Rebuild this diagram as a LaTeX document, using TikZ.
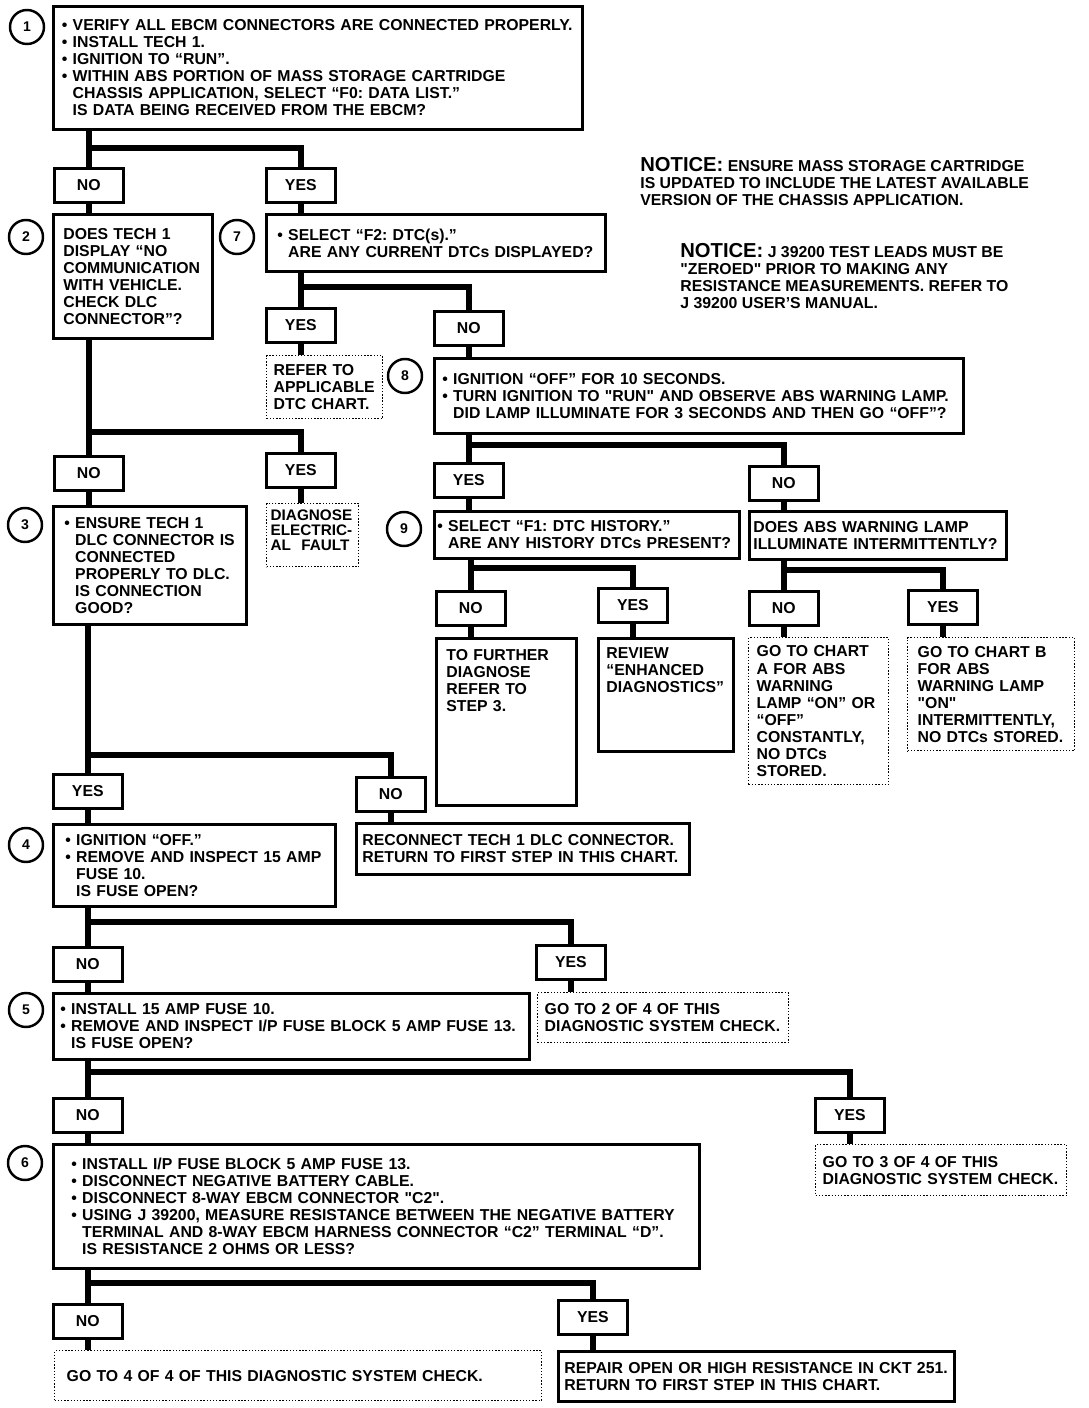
\documentclass[tikz,border=0pt]{standalone}
\usepackage{fontspec}
\setmainfont{Liberation Sans}
\usepackage{tikz}
\usetikzlibrary{positioning}

\hyphenpenalty=10000
\exhyphenpenalty=10000
\frenchspacing
\newcommand\blt{\textbullet\ }
\newcommand\cont{\phantom{\textbullet\ }}
\newcommand\qd{\textquotedbl}

\begin{document}
\begin{tikzpicture}[x=0.02cm, y=-0.02cm]
  \tikzstyle{every node}=[font=\fontsize{9}{9.7}\selectfont\bfseries]
  \tikzstyle{stepbox}=[draw, line width=1.6pt, anchor=north west, align=left, inner ysep=0pt]
  \tikzstyle{endbox}=[stepbox, line width=0.8pt, densely dotted]
  \tikzstyle{ans}=[draw, line width=1.5pt, anchor=north west, minimum width=1.38cm, minimum height=0.68cm, inner sep=0pt]
  \tikzstyle{num}=[circle, draw, line width=1.4pt, minimum size=0.68cm, inner sep=0pt, font=\fontsize{8}{8}\selectfont\bfseries]
  \tikzstyle{conn}=[line width=3.4pt]
  \useasboundingbox (0,0) rectangle (1088,1408);

  % notices
  \node[anchor=north west, align=left, inner sep=0pt] (note1) at (640,157)
    {{\fontsize{11.5}{11.5}\selectfont NOTICE:} ENSURE MASS STORAGE CARTRIDGE\\IS UPDATED TO INCLUDE THE LATEST AVAILABLE\\VERSION OF THE CHASSIS APPLICATION.};
  \node[anchor=north west, align=left, inner sep=0pt] (note2) at (680,243)
    {{\fontsize{11.5}{11.5}\selectfont NOTICE:} J 39200 TEST LEADS MUST BE\\\qd ZEROED\qd{} PRIOR TO MAKING ANY\\RESISTANCE MEASUREMENTS. REFER TO\\J 39200 USER'S MANUAL.};

  % step numbers
  \node[num] (c1) at (27,27) {1};
  \node[num] (c2) at (26,237) {2};
  \node[num] (c7) at (237,237) {7};
  \node[num] (c8) at (405,376) {8};
  \node[num] (c9) at (404,529) {9};
  \node[num] (c3) at (25,525) {3};
  \node[num] (c4) at (26,845) {4};
  \node[num] (c5) at (26,1010) {5};
  \node[num] (c6) at (25,1163) {6};

  % step boxes
  \node[stepbox, inner xsep=0.17cm, text width=10.24cm, minimum height=2.46cm] (s1) at (52,5)
    {\blt VERIFY ALL EBCM CONNECTORS ARE CONNECTED PROPERLY.\\\blt INSTALL TECH 1.\\\blt IGNITION TO “RUN”.\\\blt WITHIN ABS PORTION OF MASS STORAGE CARTRIDGE\\\cont CHASSIS APPLICATION, SELECT “F0: DATA LIST.”\\\cont IS DATA BEING RECEIVED FROM THE EBCM?};
  \node[stepbox, inner xsep=0.2cm, text width=2.78cm, minimum height=2.48cm] (s2) at (52,213)
    {DOES TECH 1\\DISPLAY “NO\\COMMUNICATION\\WITH VEHICLE.\\CHECK DLC\\CONNECTOR”?};
  \node[stepbox, inner xsep=0.22cm, text width=6.34cm, minimum height=1.14cm] (s7) at (265,213)
    {\blt SELECT “F2: DTC(s).”\\\cont ARE ANY CURRENT DTCs DISPLAYED?};
  \node[endbox, inner xsep=0.14cm, text width=2.04cm, minimum height=1.26cm] (ref1) at (266,355)
    {REFER TO\\APPLICABLE\\DTC CHART.};
  \node[stepbox, inner xsep=0.16cm, text width=10.26cm, minimum height=1.5cm] (s8) at (433,357)
    {\blt IGNITION “OFF” FOR 10 SECONDS.\\\blt TURN IGNITION TO \qd RUN\qd{} AND OBSERVE ABS WARNING LAMP.\\\cont DID LAMP ILLUMINATE FOR 3 SECONDS AND THEN GO “OFF”?};
  \node[stepbox, inner xsep=0.06cm, text width=5.98cm, minimum height=0.94cm] (s9) at (433,510)
    {\blt SELECT “F1: DTC HISTORY.”\\\cont ARE ANY HISTORY DTCs PRESENT?};
  \node[stepbox, inner xsep=0.08cm, text width=4.98cm, minimum height=0.96cm] (abs) at (748,510)
    {DOES ABS WARNING LAMP\\ILLUMINATE INTERMITTENTLY?};
  \node[stepbox, inner xsep=0.2cm, text width=2.4cm, text height=0.44cm, text depth=2.9cm] (fur) at (435,637)
    {TO FURTHER\\DIAGNOSE\\REFER TO\\STEP 3.};
  \node[stepbox, inner xsep=0.16cm, text width=2.38cm, text height=0.4cm, text depth=1.86cm] (rev) at (597,637)
    {REVIEW\\“ENHANCED\\DIAGNOSTICS”};
  \node[endbox, inner xsep=0.16cm, text width=2.48cm, minimum height=2.94cm] (chA) at (748,637)
    {GO TO CHART\\A FOR ABS\\WARNING\\LAMP “ON” OR\\“OFF”\\CONSTANTLY,\\NO DTCs\\STORED.};
  \node[endbox, inner xsep=0.2cm, text width=2.94cm, minimum height=2.26cm] (chB) at (907,637)
    {GO TO CHART B\\FOR ABS\\WARNING LAMP\\\qd ON\qd\\INTERMITTENTLY,\\NO DTCs STORED.};
  \node[endbox, inner xsep=0.08cm, text width=1.68cm, text height=0.34cm, text depth=0.92cm,
        font=\fontsize{8.7}{8.6}\selectfont\bfseries] (diag) at (266,503)
    {DIAGNOSE\\ELECTRIC-\\AL\ \ FAULT};
  \node[stepbox, inner xsep=0.22cm, text width=3.42cm, minimum height=2.36cm] (s3) at (52,505)
    {\blt ENSURE TECH 1\\\cont DLC CONNECTOR IS\\\cont CONNECTED\\\cont PROPERLY TO DLC.\\\cont IS CONNECTION\\\cont GOOD?};
  \node[stepbox, inner xsep=0.12cm, text width=6.42cm, minimum height=1.02cm] (rec) at (355,822)
    {RECONNECT TECH 1 DLC CONNECTOR.\\RETURN TO FIRST STEP IN THIS CHART.};
  \node[stepbox, inner xsep=0.24cm, text width=5.16cm, minimum height=1.64cm] (s4) at (52,823)
    {\blt IGNITION “OFF.”\\\blt REMOVE AND INSPECT 15 AMP\\\cont FUSE 10.\\\cont IS FUSE OPEN?};
  \node[endbox, inner xsep=0.14cm, text width=4.74cm, minimum height=1.0cm] (go2) at (537,992)
    {GO TO 2 OF 4 OF THIS\\DIAGNOSTIC SYSTEM CHECK.};
  \node[stepbox, inner xsep=0.14cm, text width=9.24cm, minimum height=1.32cm] (s5) at (52,992)
    {\blt INSTALL 15 AMP FUSE 10.\\\blt REMOVE AND INSPECT I/P FUSE BLOCK 5 AMP FUSE 13.\\\cont IS FUSE OPEN?};
  \node[endbox, inner xsep=0.14cm, text width=4.74cm, minimum height=1.02cm] (go3) at (815,1144)
    {GO TO 3 OF 4 OF THIS\\DIAGNOSTIC SYSTEM CHECK.};
  \node[stepbox, inner xsep=0.36cm, text width=12.2cm, minimum height=2.48cm] (s6) at (52,1143)
    {\blt INSTALL I/P FUSE BLOCK 5 AMP FUSE 13.\\\blt DISCONNECT NEGATIVE BATTERY CABLE.\\\blt DISCONNECT 8-WAY EBCM CONNECTOR \qd C2\qd.\\\blt USING J 39200, MEASURE RESISTANCE BETWEEN THE NEGATIVE BATTERY\\\cont TERMINAL AND 8-WAY EBCM HARNESS CONNECTOR “C2” TERMINAL “D”.\\\cont IS RESISTANCE 2 OHMS OR LESS?};
  \node[endbox, inner xsep=0.24cm, text width=9.26cm, minimum height=1.0cm] (go4) at (54,1350)
    {GO TO 4 OF 4 OF THIS DIAGNOSTIC SYSTEM CHECK.};
  \node[stepbox, inner xsep=0.12cm, text width=7.68cm, minimum height=1.0cm] (rep) at (557,1350)
    {REPAIR OPEN OR HIGH RESISTANCE IN CKT 251.\\RETURN TO FIRST STEP IN THIS CHART.};

  % answers
  \node[ans] (no1) at (53,167) {NO};
  \node[ans] (yes1) at (265,167) {YES};
  \node[ans] (yes2) at (265,307) {YES};
  \node[ans] (no2) at (433,310) {NO};
  \node[ans] (no6) at (53,455) {NO};
  \node[ans] (yes6) at (265,452) {YES};
  \node[ans] (yes3) at (433,462) {YES};
  \node[ans] (no3) at (748,465) {NO};
  \node[ans] (no4) at (435,590) {NO};
  \node[ans] (yes4) at (597,587) {YES};
  \node[ans] (no5) at (748,590) {NO};
  \node[ans] (yes5) at (907,589) {YES};
  \node[ans] (yes7) at (52,773) {YES};
  \node[ans] (no7) at (355,776) {NO};
  \node[ans] (no8) at (52,946) {NO};
  \node[ans] (yes8) at (535,944) {YES};
  \node[ans] (no9) at (52,1097) {NO};
  \node[ans] (yes9) at (814,1097) {YES};
  \node[ans] (no10) at (52,1303) {NO};
  \node[ans] (yes10) at (557,1299) {YES};

  % branch levels
  \coordinate (j1) at (0,148);
  \coordinate (j7) at (0,287);
  \coordinate (j8) at (0,445);
  \coordinate (j9) at (0,568);
  \coordinate (jab) at (0,570);
  \coordinate (j2) at (0,432);
  \coordinate (j3) at (0,755);
  \coordinate (j4) at (0,922);
  \coordinate (j5) at (0,1072);
  \coordinate (j6) at (0,1283);

  % step 1
  \draw[conn] (s1.south -| no1) -- (no1.north);
  \draw[conn] (no1 |- j1) -| (yes1.north);
  \draw[conn] (no1.south) -- (s2.north -| no1);
  \draw[conn] (yes1.south) -- (s7.north -| yes1);
  % step 7
  \draw[conn] (s7.south -| yes2) -- (yes2.north);
  \draw[conn] (yes2 |- j7) -| (no2.north);
  \draw[conn] (yes2.south) -- (ref1.north -| yes2);
  \draw[conn] (no2.south) -- (s8.north -| no2);
  % step 8
  \draw[conn] (s8.south -| yes3) -- (yes3.north);
  \draw[conn] (yes3 |- j8) -| (no3.north);
  \draw[conn] (yes3.south) -- (s9.north -| yes3);
  \draw[conn] (no3.south) -- (abs.north -| no3);
  % step 9
  \draw[conn] (s9.south -| no4) -- (no4.north);
  \draw[conn] (no4 |- j9) -| (yes4.north);
  \draw[conn] (no4.south) -- (fur.north -| no4);
  \draw[conn] (yes4.south) -- (rev.north -| yes4);
  % warning lamp
  \draw[conn] (abs.south -| no5) -- (no5.north);
  \draw[conn] (no5 |- jab) -| (yes5.north);
  \draw[conn] (no5.south) -- (chA.north -| no5);
  \draw[conn] (yes5.south) -- (chB.north -| yes5);
  % step 2
  \draw[conn] (s2.south -| no6) -- (no6.north);
  \draw[conn] (no6 |- j2) -| (yes6.north);
  \draw[conn] (no6.south) -- (s3.north -| no6);
  \draw[conn] (yes6.south) -- (diag.north -| yes6);
  % step 3
  \draw[conn] (s3.south -| yes7) -- (yes7.north);
  \draw[conn] (yes7 |- j3) -| (no7.north);
  \draw[conn] (yes7.south) -- (s4.north -| yes7);
  \draw[conn] (no7.south) -- (rec.north -| no7);
  % step 4
  \draw[conn] (s4.south -| no8) -- (no8.north);
  \draw[conn] (no8 |- j4) -| (yes8.north);
  \draw[conn] (no8.south) -- (s5.north -| no8);
  \draw[conn] (yes8.south) -- (go2.north -| yes8);
  % step 5
  \draw[conn] (s5.south -| no9) -- (no9.north);
  \draw[conn] (no9 |- j5) -| (yes9.north);
  \draw[conn] (no9.south) -- (s6.north -| no9);
  \draw[conn] (yes9.south) -- (go3.north -| yes9);
  % step 6
  \draw[conn] (s6.south -| no10) -- (no10.north);
  \draw[conn] (no10 |- j6) -| (yes10.north);
  \draw[conn] (no10.south) -- (go4.north -| no10);
  \draw[conn] (yes10.south) -- (rep.north -| yes10);
\end{tikzpicture}
\end{document}
